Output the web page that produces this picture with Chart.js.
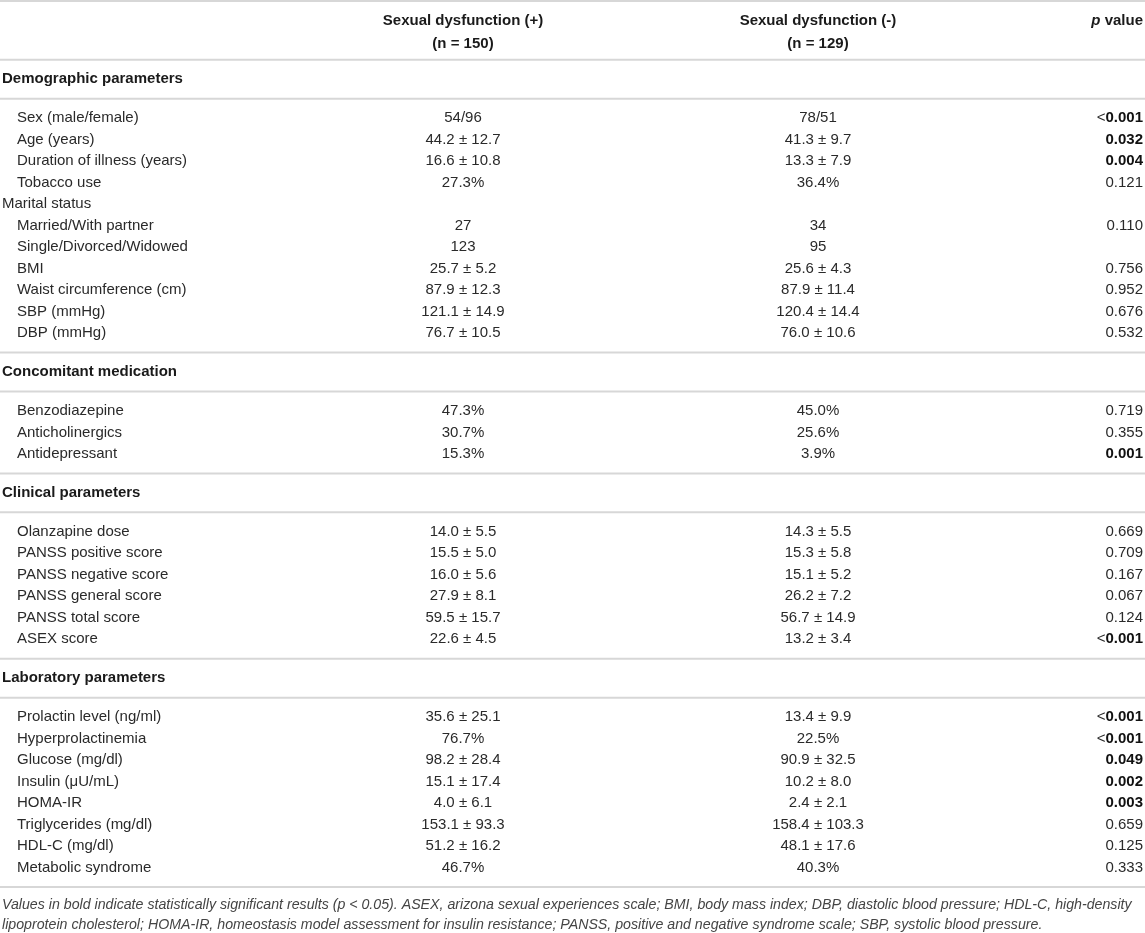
<!DOCTYPE html>
<html>
<head>
<meta charset="utf-8">
<script src="https://cdn.jsdelivr.net/npm/chart.js@4.4.1/dist/chart.umd.min.js"></script>
<style>
  html, body { margin: 0; padding: 0; background: #fff; }
  #wrap { width: 1145px; height: 933px; }
</style>
</head>
<body>
<div id="wrap"><canvas id="myChart" width="1145" height="933"></canvas></div>
<script>
// table data
const groupHeads = ['Sexual dysfunction (+)', 'Sexual dysfunction (-)'];
const groupSizes = ['(n = 150)', '(n = 129)'];
const sections = ['Demographic parameters', 'Concomitant medication', 'Clinical parameters', 'Laboratory parameters'];

const variables = [
  'Sex (male/female)', 'Age (years)', 'Duration of illness (years)', 'Tobacco use', 'Marital status',
  'Married/With partner', 'Single/Divorced/Widowed', 'BMI', 'Waist circumference (cm)', 'SBP (mmHg)', 'DBP (mmHg)',
  'Benzodiazepine', 'Anticholinergics', 'Antidepressant',
  'Olanzapine dose', 'PANSS positive score', 'PANSS negative score', 'PANSS general score', 'PANSS total score', 'ASEX score',
  'Prolactin level (ng/ml)', 'Hyperprolactinemia', 'Glucose (mg/dl)', 'Insulin (μU/mL)', 'HOMA-IR',
  'Triglycerides (mg/dl)', 'HDL-C (mg/dl)', 'Metabolic syndrome'
];
const rowSection = [0,0,0,0,0,0,0,0,0,0,0, 1,1,1, 2,2,2,2,2,2, 3,3,3,3,3,3,3,3];

const withDysfunction = [
  '54/96', '44.2 ± 12.7', '16.6 ± 10.8', '27.3%', '',
  '27', '123', '25.7 ± 5.2', '87.9 ± 12.3', '121.1 ± 14.9', '76.7 ± 10.5',
  '47.3%', '30.7%', '15.3%',
  '14.0 ± 5.5', '15.5 ± 5.0', '16.0 ± 5.6', '27.9 ± 8.1', '59.5 ± 15.7', '22.6 ± 4.5',
  '35.6 ± 25.1', '76.7%', '98.2 ± 28.4', '15.1 ± 17.4', '4.0 ± 6.1', '153.1 ± 93.3', '51.2 ± 16.2', '46.7%'
];
const withoutDysfunction = [
  '78/51', '41.3 ± 9.7', '13.3 ± 7.9', '36.4%', '',
  '34', '95', '25.6 ± 4.3', '87.9 ± 11.4', '120.4 ± 14.4', '76.0 ± 10.6',
  '45.0%', '25.6%', '3.9%',
  '14.3 ± 5.5', '15.3 ± 5.8', '15.1 ± 5.2', '26.2 ± 7.2', '56.7 ± 14.9', '13.2 ± 3.4',
  '13.4 ± 9.9', '22.5%', '90.9 ± 32.5', '10.2 ± 8.0', '2.4 ± 2.1', '158.4 ± 103.3', '48.1 ± 17.6', '40.3%'
];
const pValues = [
  '<0.001', '0.032', '0.004', '0.121', '',
  '0.110', '', '0.756', '0.952', '0.676', '0.532',
  '0.719', '0.355', '0.001',
  '0.669', '0.709', '0.167', '0.067', '0.124', '<0.001',
  '<0.001', '<0.001', '0.049', '0.002', '0.003', '0.659', '0.125', '0.333'
];

const footnote = [
  'Values in bold indicate statistically significant results (p < 0.05). ASEX, arizona sexual experiences scale; BMI, body mass index; DBP, diastolic blood pressure; HDL-C, high-density',
  'lipoprotein cholesterol; HOMA-IR, homeostasis model assessment for insulin resistance; PANSS, positive and negative syndrome scale; SBP, systolic blood pressure.'
];

// layout, in row units (one row = one unit on the y scale)
const ROW_PX = 21.5;
const GAP = 0.905;
const COL = { head: 2, label: 17, plus: 463, minus: 818, p: 1143 };

let rules = [0.05];
let cells = [];
let sectionYs = [];
let y = 2.78;
rules.push(y);
let current = -1;
variables.forEach((v, i) => {
  if (rowSection[i] !== current) {
    if (current !== -1) { y += GAP; rules.push(y); }
    current = rowSection[i];
    y += GAP; sectionYs.push(y);
    y += GAP; rules.push(y);
    y += GAP;
  } else {
    y += 1;
  }
  cells.push({ row: i, y: y });
});
y += GAP;
rules.push(y);
const footY = [y + 0.85, y + 1.78];
const yMax = 933 / ROW_PX;

const ruleSets = rules.map(r => ({
  type: 'line',
  data: [{ x: 0, y: r }, { x: 1145, y: r }],
  borderColor: '#d7d7d7',
  borderWidth: 2,
  pointRadius: 0,
  fill: false
}));

const FONT = '"Liberation Sans", Arial, sans-serif';

const tablePlugin = {
  id: 'tableText',
  afterDatasetsDraw(chart) {
    const c = chart.ctx;
    const sx = chart.scales.x, sy = chart.scales.y;
    const X = v => sx.getPixelForValue(v);
    const Y = v => sy.getPixelForValue(v);
    c.save();
    c.textBaseline = 'middle';

    // header
    c.font = 'bold 15px ' + FONT;
    c.fillStyle = '#1a1a1a';
    c.textAlign = 'center';
    c.fillText(groupHeads[0], X(COL.plus), Y(0.98));
    c.fillText(groupSizes[0], X(COL.plus), Y(2.02));
    c.fillText(groupHeads[1], X(COL.minus), Y(0.98));
    c.fillText(groupSizes[1], X(COL.minus), Y(2.02));
    c.textAlign = 'right';
    c.fillText(' value', X(COL.p), Y(0.98));
    const wv = c.measureText(' value').width;
    c.font = 'italic bold 15px ' + FONT;
    c.fillText('p', X(COL.p) - wv, Y(0.98));

    // section headings
    c.font = 'bold 15px ' + FONT;
    c.textAlign = 'left';
    sections.forEach((s, k) => c.fillText(s, X(COL.head), Y(sectionYs[k])));

    // body rows
    cells.forEach(cell => {
      const i = cell.row, yy = Y(cell.y);
      const empty = !withDysfunction[i] && !withoutDysfunction[i] && !pValues[i];
      c.font = '15px ' + FONT;
      c.fillStyle = '#2a2a2a';
      c.textAlign = 'left';
      c.fillText(variables[i], X(empty ? COL.head : COL.label), yy);
      c.textAlign = 'center';
      c.fillText(withDysfunction[i], X(COL.plus), yy);
      c.fillText(withoutDysfunction[i], X(COL.minus), yy);
      const p = pValues[i];
      if (p) {
        c.textAlign = 'right';
        const num = p.replace('<', '');
        const sig = parseFloat(num) < 0.05;
        c.font = (sig ? 'bold ' : '') + '15px ' + FONT;
        c.fillStyle = sig ? '#111' : '#2a2a2a';
        c.fillText(num, X(COL.p), yy);
        if (p.startsWith('<')) {
          const w = c.measureText(num).width;
          c.font = '15px ' + FONT;
          c.fillStyle = '#2a2a2a';
          c.fillText('<', X(COL.p) - w, yy);
        }
      }
    });

    // footnote
    c.font = 'italic 14.2px ' + FONT;
    c.fillStyle = '#444';
    c.textAlign = 'left';
    footnote.forEach((t, k) => c.fillText(t, X(COL.head), Y(footY[k])));
    c.restore();
  }
};

new Chart(document.getElementById('myChart'), {
  type: 'scatter',
  data: { datasets: ruleSets },
  options: {
    responsive: false,
    animation: false,
    showLine: true,
    layout: { padding: 0 },
    plugins: { legend: { display: false }, tooltip: { enabled: false } },
    scales: {
      x: { type: 'linear', min: 0, max: 1145, display: false },
      y: { type: 'linear', min: 0, max: yMax, reverse: true, display: false }
    }
  },
  plugins: [tablePlugin]
});
</script>
</body>
</html>
